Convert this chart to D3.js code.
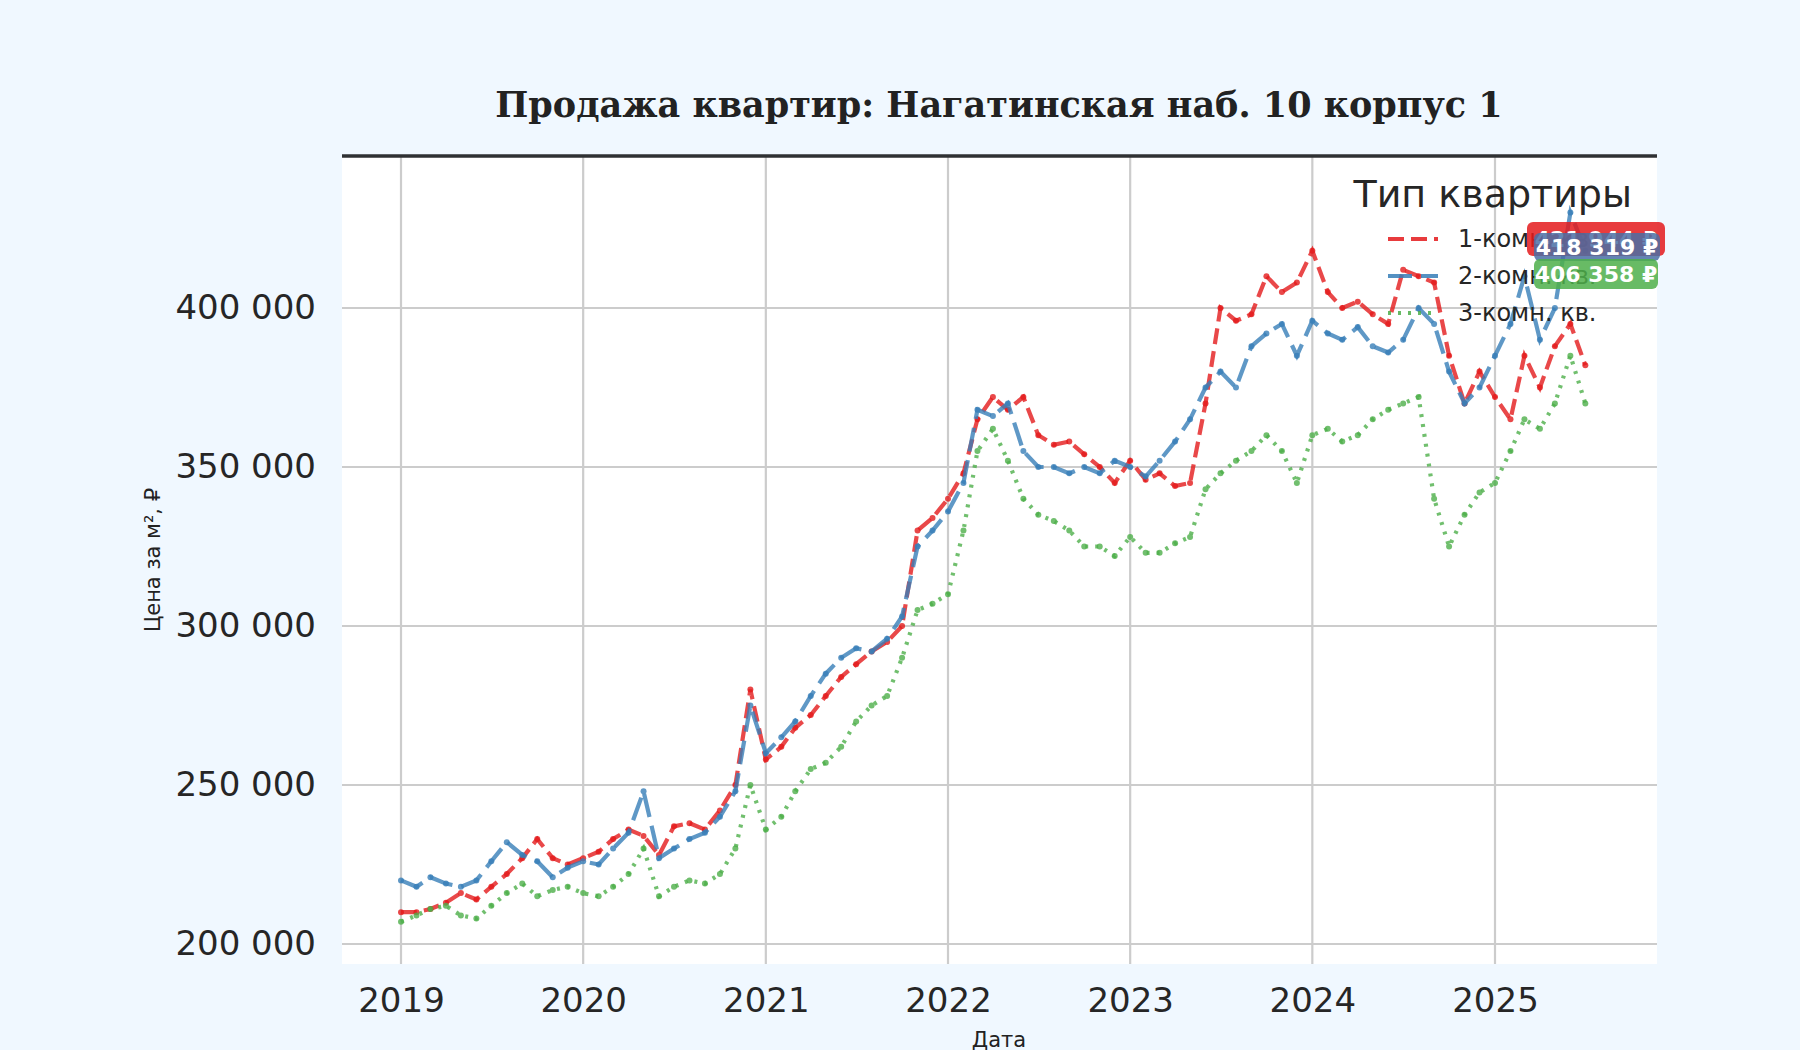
<!DOCTYPE html>
<html><head><meta charset="utf-8">
<script src="https://cdn.jsdelivr.net/npm/d3@7"></script>
<style>body{margin:0;background:#f0f8ff;}svg{display:block;font-family:"DejaVu Sans",sans-serif;}</style>
</head><body><svg id="c" width="1800" height="1050"></svg>
<script>
// monthly values from Jan 2019 to Jul 2025, ₽ per m²
const startMonth = new Date(2019, 0, 1);
const oneRoom = [210,210,211,213,216,214,218,222,227,233,227,225, 227,229,233,236,234,228,237,238,236,242,250,280, 258,262,268,272,278,284,288,292,295,300,330,334, 340,348,365,372,368,372,360,357,358,354,350,345, 352,346,348,344,345,370,400,396,398,410,405,408, 418,405,400,402,398,395,412,410,408,385,370,380, 372,365,385,375,388,395,382];
const twoRoom = [220,218,221,219,218,220,226,232,228,226,221,224, 226,225,230,235,248,227,230,233,235,240,248,275, 260,265,270,278,285,290,293,292,296,303,325,330, 336,345,368,366,370,355,350,350,348,350,348,352, 350,347,352,358,365,375,380,375,388,392,395,385, 396,392,390,394,388,386,390,400,395,380,370,375, 385,395,410,390,400,430,418];
const threeRoom = [207,209,211,212,209,208,212,216,219,215,217,218, 216,215,218,222,230,215,218,220,219,222,230,250, 236,240,248,255,257,262,270,275,278,290,305,307, 310,330,355,362,352,340,335,333,330,325,325,322, 328,323,323,326,328,343,348,352,355,360,355,345, 360,362,358,360,365,368,370,372,340,325,335,342, 345,355,365,362,370,385,370];
const seriesNames = ['1-комн. кв.', '2-комн. кв.', '3-комн. кв.'];
const lastLabels = ['421 944 ₽', '418 319 ₽', '406 358 ₽'];
const yTicks = [200000, 250000, 300000, 350000, 400000];
const xTickYears = [2019, 2020, 2021, 2022, 2023, 2024, 2025];

const colors = ['#e41a1c', '#377eb8', '#4daf4a'];
const dashes = ['16,7', '24,9', '3,7'];
const svg = d3.select('#c');
const plot = {left: 342, right: 1657, top: 156, bottom: 964};

const x = d3.scaleTime().domain([new Date(2019,0,1), new Date(2025,0,1)]).range([401, 1495]);
const y = d3.scaleLinear().domain([200000, 400000]).range([944, 308]);

svg.append('rect').attr('x', plot.left).attr('y', plot.top)
  .attr('width', plot.right - plot.left).attr('height', plot.bottom - plot.top).attr('fill', '#fff');

// grid
svg.append('g').selectAll('line').data(yTicks).join('line')
  .attr('x1', plot.left).attr('x2', plot.right).attr('y1', d => y(d)).attr('y2', d => y(d))
  .attr('stroke', '#cccccc').attr('stroke-width', 2.2);
svg.append('g').selectAll('line').data(xTickYears).join('line')
  .attr('x1', d => x(new Date(d,0,1))).attr('x2', d => x(new Date(d,0,1)))
  .attr('y1', plot.top).attr('y2', plot.bottom).attr('stroke', '#cccccc').attr('stroke-width', 2.2);
svg.append('line').attr('x1', plot.left).attr('x2', plot.right).attr('y1', plot.top).attr('y2', plot.top)
  .attr('stroke', '#2f3133').attr('stroke-width', 3.5);

// axes
const fmt = d => d3.format(',')(d).replace(/,/g, ' ');
const yAxis = svg.append('g').attr('transform', `translate(${plot.left},0)`)
  .call(d3.axisLeft(y).tickValues(yTicks).tickFormat(fmt).tickSize(0).tickPadding(26));
const xAxis = svg.append('g').attr('transform', `translate(0,${plot.bottom})`)
  .call(d3.axisBottom(x).tickValues(xTickYears.map(d => new Date(d,0,1))).tickFormat(d3.timeFormat('%Y')).tickSize(0).tickPadding(24));
[yAxis, xAxis].forEach(a => {
  a.select('.domain').remove();
  a.selectAll('text').attr('font-size', 34).attr('fill', '#262626').attr('font-family', '"DejaVu Sans"');
});

// lines
const all = [oneRoom, twoRoom, threeRoom];
const line = d3.line().x((d, i) => x(d3.timeMonth.offset(startMonth, i))).y(d => y(d * 1000));
all.forEach((s, k) => {
  svg.append('path').datum(s).attr('d', line).attr('fill', 'none')
    .attr('stroke', colors[k]).attr('stroke-width', 4.2).attr('stroke-dasharray', dashes[k]).attr('opacity', 0.8);
  svg.append('g').selectAll('circle').data(s).join('circle')
    .attr('cx', (d, i) => x(d3.timeMonth.offset(startMonth, i))).attr('cy', d => y(d * 1000))
    .attr('r', 3).attr('fill', colors[k]).attr('opacity', 0.8);
});

// titles
svg.append('text').attr('x', 999).attr('y', 117).attr('text-anchor', 'middle')
  .attr('font-family', '"DejaVu Serif", serif').attr('font-weight', 'bold').attr('font-size', 35).attr('fill', '#222')
  .text('Продажа квартир: Нагатинская наб. 10 корпус 1');
svg.append('text').attr('x', 999).attr('y', 1047).attr('text-anchor', 'middle')
  .attr('font-size', 21).attr('fill', '#222').text('Дата');
svg.append('text').attr('transform', 'translate(160,560) rotate(-90)').attr('text-anchor', 'middle')
  .attr('font-size', 21).attr('fill', '#222').text('Цена за м², ₽');

// legend
svg.append('text').attr('x', 1632).attr('y', 207).attr('text-anchor', 'end')
  .attr('font-size', 38).attr('fill', '#262626').text('Тип квартиры');
seriesNames.forEach((n, k) => {
  const ly = 239 + k * 37;
  svg.append('line').attr('x1', 1388).attr('x2', 1438).attr('y1', ly).attr('y2', ly)
    .attr('stroke', colors[k]).attr('stroke-width', 4).attr('stroke-dasharray', dashes[k]).attr('opacity', 0.85);
  svg.append('text').attr('x', 1458).attr('y', ly + 8).attr('font-size', 24).attr('fill', '#262626').text(n);
});

// last value labels
const boxes = [[1527, 222, 138, 34], [1534, 233, 126, 28], [1534, 259, 124, 30]];
const boxFill = ['#e41a1c', '#4a6fa5', '#4daf4a'];
boxes.forEach((b, k) => {
  svg.append('rect').attr('x', b[0]).attr('y', b[1]).attr('width', b[2]).attr('height', b[3])
    .attr('rx', 6).attr('fill', boxFill[k]).attr('opacity', 0.85);
  svg.append('text').attr('x', b[0] + b[2] / 2).attr('y', b[1] + b[3] / 2 + 8).attr('text-anchor', 'middle')
    .attr('font-size', 22).attr('font-weight', 'bold').attr('fill', '#fff').text(lastLabels[k]);
});
</script></body></html>
